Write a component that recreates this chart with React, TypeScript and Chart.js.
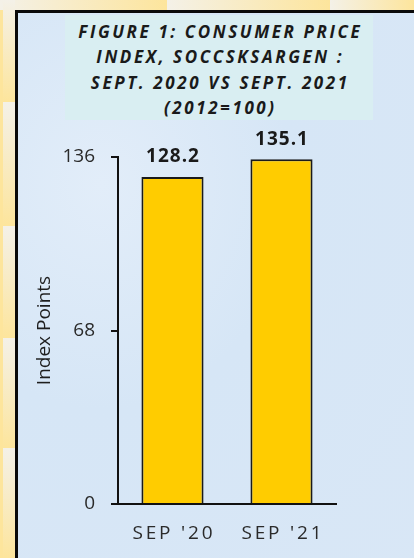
import React, { useEffect, useRef } from "react";
import { Chart, registerables } from "chart.js";

Chart.register(...registerables);

const categories = ["SEP '20", "SEP '21"];
const cpiValues = [128.2, 135.1];
const yTickValues = [0, 68, 136];
const titleLines = [
  "FIGURE 1: CONSUMER PRICE",
  "INDEX, SOCCSKSARGEN :",
  "SEPT. 2020 VS SEPT. 2021",
  "(2012=100)",
];
const yAxisTitle = "Index Points";

const FONT = "'Open Sans', sans-serif";

const valueLabelPlugin = {
  id: "valueLabels",
  afterDatasetsDraw(chart: any) {
    const ctx = chart.ctx;
    const meta = chart.getDatasetMeta(0);
    ctx.save();
    ctx.font = `bold 19px ${FONT}`;
    (ctx as any).letterSpacing = "1px";
    ctx.fillStyle = "#1a1a1a";
    ctx.textAlign = "center";
    ctx.textBaseline = "middle";
    meta.data.forEach((bar: any, i: number) => {
      const v = chart.data.datasets[0].data[i] as number;
      ctx.fillText(v.toFixed(1), bar.x + 0.5, bar.y - 20);
    });
    ctx.restore();
  },
};

const categoryLabelPlugin = {
  id: "categoryLabels",
  beforeDraw(chart: any) {
    (chart.ctx as any).letterSpacing = "0px";
  },
  afterDraw(chart: any) {
    const ctx = chart.ctx;
    const xs = chart.scales.x;
    ctx.save();
    ctx.font = `19px ${FONT}`;
    (ctx as any).letterSpacing = "2.8px";
    ctx.fillStyle = "#2a2a2a";
    ctx.textAlign = "center";
    ctx.textBaseline = "middle";
    chart.data.labels.forEach((lab: string, i: number) => {
      ctx.fillText(lab, xs.getPixelForValue(i) + 1.4, chart.chartArea.bottom + 30);
    });
    ctx.restore();
  },
};

function CpiChart() {
  const ref = useRef<HTMLCanvasElement | null>(null);
  useEffect(() => {
    if (!ref.current) return;
    const chart = new Chart(ref.current, {
      type: "bar",
      data: {
        labels: categories,
        datasets: [
          {
            data: cpiValues,
            backgroundColor: "#FFCC00",
            borderColor: "#1a1a1a",
            borderWidth: 2,
            borderSkipped: "bottom",
            categoryPercentage: 1,
            barPercentage: 0.57,
          },
        ],
      },
      options: {
        animation: false,
        responsive: false,
        maintainAspectRatio: false,
        events: [],
        layout: { padding: { top: 157, right: 78, left: 0, bottom: 0 } },
        plugins: {
          legend: { display: false },
          tooltip: { enabled: false },
          title: { display: false },
        },
        scales: {
          x: {
            grid: { display: false },
            border: { display: true, color: "#111", width: 2 },
            ticks: { display: false },
            afterFit(scale: any) {
              scale.height = 54;
            },
          },
          y: {
            min: 0,
            max: 136,
            afterBuildTicks(scale: any) {
              scale.ticks = yTickValues.map((v) => ({ value: v }));
            },
            grid: {
              display: true,
              drawOnChartArea: false,
              drawTicks: true,
              tickLength: 7,
              color: "#111",
              lineWidth: 2,
            },
            border: { display: true, color: "#111", width: 2 },
            ticks: {
              color: "#2a2a2a",
              font: { family: FONT, size: 19 },
              padding: 16,
            },
            title: {
              display: true,
              text: yAxisTitle,
              color: "#1e1e1e",
              font: { family: FONT, size: 19 },
              padding: { top: 33, bottom: 0 },
            },
            afterFit(scale: any) {
              scale.width = 118;
            },
          },
        },
      },
      plugins: [categoryLabelPlugin, valueLabelPlugin],
    });
    return () => chart.destroy();
  }, []);
  return (
    <canvas
      ref={ref}
      width={414}
      height={558}
      style={{ position: "absolute", left: 0, top: 0, width: 414, height: 558 }}
    />
  );
}

const cream = "#f4f1e8";
const yellow = "#fde59c";

export default function App() {
  const leftBlocks = [
    [0, 102],
    [102, 226],
    [226, 338],
    [338, 448],
    [448, 558],
  ];
  const topBlocks = [
    [0, 167],
    [167, 330],
    [330, 414],
  ];
  return (
    <div
      style={{
        position: "fixed",
        left: 0,
        top: 0,
        width: 414,
        height: 558,
        overflow: "hidden",
        background: yellow,
        fontFamily: FONT,
      }}
    >
      {topBlocks.map(([a, b], i) => (
        <div
          key={"t" + i}
          style={{
            position: "absolute",
            left: a,
            top: 0,
            width: b - a,
            height: 10,
            background: `linear-gradient(to right, ${cream}, ${yellow})`,
          }}
        />
      ))}
      {leftBlocks.map(([a, b], i) => (
        <div
          key={"l" + i}
          style={{
            position: "absolute",
            left: 3,
            top: a,
            width: 12,
            height: b - a,
            background: `linear-gradient(to bottom, ${cream}, ${yellow})`,
          }}
        />
      ))}
      <div
        style={{
          position: "absolute",
          left: 15,
          top: 10,
          width: 420,
          height: 570,
          borderLeft: "3px solid #0a0a0a",
          borderTop: "3px solid #0a0a0a",
          background:
            "radial-gradient(ellipse at 20% 30%, #e2edf9 0%, #d6e6f6 40%, #d9e7f6 100%)",
        }}
      />
      <div
        style={{
          position: "absolute",
          left: 65,
          top: 15,
          width: 308,
          height: 105,
          background: "#d9eef2",
        }}
      />
      <div
        style={{
          position: "absolute",
          left: 65,
          top: 19,
          width: 308,
          textAlign: "center",
          color: "#1a1a1a",
          fontWeight: 700,
          fontStyle: "italic",
          fontSize: 17,
          lineHeight: "25.3px",
          letterSpacing: "2.6px",
          paddingLeft: 2.6,
          boxSizing: "border-box",
        }}
      >
        {titleLines.map((l, i) => (
          <div key={i} style={{ whiteSpace: "nowrap" }}>
            {l}
          </div>
        ))}
      </div>
      <CpiChart />
    </div>
  );
}
